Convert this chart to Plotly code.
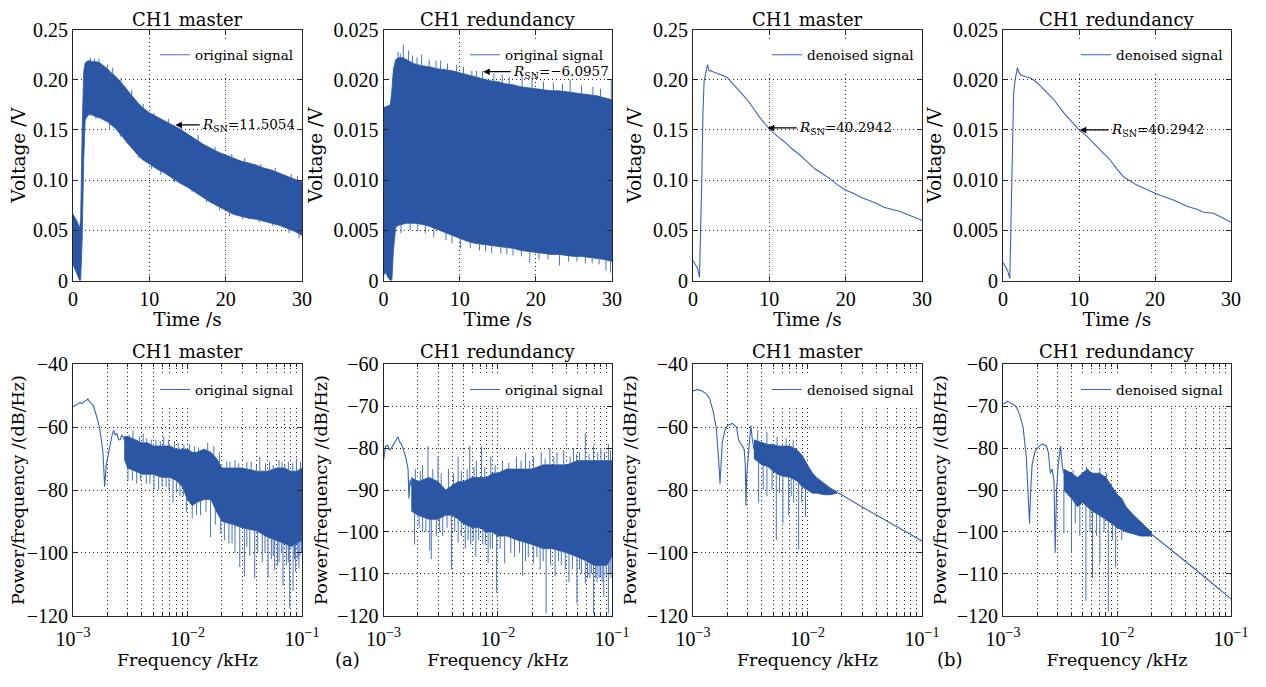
import numpy as np
import plotly.graph_objects as go

# the page body keeps its 8px default margin, so the figure is drawn 8px in from the corner
OFF = 8
W, H = 1266 - 2 * OFF, 687 - 2 * OFF

# ---------------- values ----------------
# top row: time /s, voltage /V
# CH1 master, original signal: the noise band is kept as upper/lower edges
mo_t = [0, 0.3, 0.6, 0.85, 1.0, 1.2, 1.4, 1.6, 2, 2.5, 3, 3.5, 4, 4.5, 5, 5.5, 6, 6.5, 7, 7.5, 8, 8.5, 9, 9.5, 10,
        11, 12, 13, 14, 15, 16, 17, 18, 19, 20, 21, 22, 23, 24, 25, 26, 27, 28, 29, 30]
mo_hi = [0.066, 0.062, 0.058, 0.052, 0.060, 0.150, 0.208, 0.217, 0.219, 0.218, 0.218, 0.217, 0.214, 0.211, 0.207,
         0.204, 0.200, 0.196, 0.191, 0.186, 0.181, 0.177, 0.173, 0.170, 0.167,
         0.163, 0.159, 0.155, 0.151, 0.146, 0.141, 0.136, 0.132, 0.128, 0.125, 0.122, 0.119, 0.117, 0.115, 0.112,
         0.110, 0.107, 0.104, 0.101, 0.098]
mo_lo = [0.016, 0.010, 0.005, 0.0, 0.0, 0.040, 0.120, 0.160, 0.165, 0.165, 0.163, 0.162, 0.160, 0.158, 0.155,
         0.152, 0.148, 0.143, 0.138, 0.133, 0.129, 0.125, 0.121, 0.118, 0.116,
         0.111, 0.107, 0.102, 0.097, 0.093, 0.088, 0.083, 0.078, 0.074, 0.070, 0.066, 0.064, 0.062, 0.061, 0.059,
         0.057, 0.055, 0.052, 0.049, 0.045]
mo_up_t = [2.3, 2.8, 3.4, 4.5, 5.2, 6.3, 7.7, 9.2, 10.6, 12.5, 14.2, 16.4, 18.6, 20.8, 22.5, 24.6, 26.5, 28.6, 29.4]
mo_up_v = [0.222, 0.221, 0.221, 0.215, 0.212, 0.202, 0.190, 0.176, 0.167, 0.161, 0.155, 0.145, 0.133, 0.126,
           0.122, 0.116, 0.112, 0.106, 0.104]
mo_dn_t = [3.0, 4.8, 6.2, 8.6, 10.3, 11.5, 13.3, 15.6, 17.5, 19.2, 20.5, 22.2, 24.4, 26.2, 28.3, 29.6]
mo_dn_v = [0.161, 0.150, 0.143, 0.122, 0.111, 0.105, 0.098, 0.088, 0.078, 0.070, 0.064, 0.061, 0.058, 0.054,
           0.047, 0.042]

# CH1 redundancy, original signal
ro_t = [0, 0.3, 0.6, 0.9, 1.1, 1.3, 1.6, 2, 2.5, 3,
        4, 5, 6, 7, 8, 9, 10, 11, 12, 13, 14, 15, 16, 17, 18, 19, 20, 21, 22, 23, 24, 25, 26, 27, 28, 29, 30]
ro_hi = [0.0172, 0.0173, 0.0174, 0.0175, 0.0190, 0.0210, 0.0220, 0.0222, 0.0222, 0.0220,
         0.0216, 0.0214, 0.0213, 0.0211, 0.0210, 0.0209, 0.0207, 0.0205, 0.0203, 0.0201, 0.0199, 0.0198, 0.0196,
         0.0195, 0.0193, 0.0192, 0.0191, 0.0190, 0.0189, 0.0189, 0.0188, 0.0187, 0.0186, 0.0185, 0.0184, 0.0182,
         0.0180]
ro_lo = [0.0005, 0.0008, 0.0003, 0.0, 0.0, 0.0030, 0.0053, 0.0055, 0.0056, 0.0057,
         0.0057, 0.0056, 0.0054, 0.0051, 0.0048, 0.0045, 0.0042, 0.0039, 0.0037, 0.0036, 0.0035, 0.0034, 0.0033,
         0.0032, 0.0030, 0.0029, 0.0028, 0.0027, 0.0026, 0.0026, 0.0025, 0.0024, 0.0024, 0.0023, 0.0022, 0.0021,
         0.0019]
ro_up_t = [1.9, 2.2, 2.6, 3.3, 3.8, 4.4, 5.0, 6.0, 6.9, 7.5, 8.4, 9.6, 10.5, 11.6, 12.2, 13.0, 14.5, 15.6, 16.5,
           18.2, 19.5, 21.0, 22.3, 23.5, 24.5, 26.0, 27.5, 28.5, 29.9]
ro_up_v = [0.0228, 0.0226, 0.0235, 0.0229, 0.0224, 0.0222, 0.0225, 0.0220, 0.0219, 0.0219, 0.0216, 0.0215,
           0.0213, 0.0214, 0.0210, 0.0212, 0.0206, 0.0205, 0.0203, 0.0204, 0.0200, 0.0198, 0.0197, 0.0196,
           0.0200, 0.0194, 0.0193, 0.0191, 0.0201]
ro_dn_t = [2.3, 3.5, 4.5, 5.5, 6.6, 8.2, 9.0, 10.1, 11.4, 12.6, 13.4, 14.2, 15.4, 16.2, 17.0, 18.1, 19.2, 20.4,
           21.6, 23.1, 24.3, 25.4, 26.5, 27.4, 28.3, 29.2, 29.8]
ro_dn_v = [0.0047, 0.0050, 0.0049, 0.0047, 0.0043, 0.0040, 0.0037, 0.0032, 0.0032, 0.0030, 0.0029, 0.0027,
           0.0027, 0.0026, 0.0025, 0.0024, 0.0018, 0.0021, 0.0021, 0.0015, 0.0019, 0.0019, 0.0017, 0.0017,
           0.0016, 0.0010, 0.0008]

# CH1 master, denoised signal
md_t = [0, 0.3, 0.6, 0.85, 1.0, 1.15, 1.3, 1.45, 1.6, 1.75, 1.9, 2.1, 2.3, 2.6, 3,
        3.5, 4, 4.5, 5, 5.5, 6, 6.5, 7, 7.5, 8, 8.5, 9, 9.5, 10,
        11, 12, 13, 14, 15, 16, 17, 18, 19, 20, 21, 22, 23, 24, 25, 26, 27, 28, 29, 30]
md_v = [0.020, 0.016, 0.012, 0.003, 0.040, 0.100, 0.165, 0.198, 0.204, 0.212, 0.215, 0.209, 0.209, 0.208, 0.207,
        0.206, 0.204, 0.202, 0.198, 0.194, 0.189, 0.185, 0.181, 0.176, 0.170, 0.165, 0.160, 0.155, 0.151,
        0.144, 0.138, 0.131, 0.125, 0.118, 0.111, 0.106, 0.101, 0.095, 0.090, 0.087, 0.083, 0.080, 0.077, 0.073,
        0.071, 0.069, 0.066, 0.063, 0.060]

# CH1 redundancy, denoised signal
rd_t = [0, 0.3, 0.6, 0.9, 1.05, 1.2, 1.4, 1.6, 1.9, 2.1, 2.3, 3, 3.6, 4.5, 5.8, 6.7, 8, 9, 10, 11,
        12.4, 14.1, 15, 15.9, 17.6, 19, 20, 21, 22.5, 24.2, 25.5, 26.4, 27.7, 29, 30]
rd_v = [0.0018, 0.0014, 0.0010, 0.0002, 0.0050, 0.0120, 0.0187, 0.0200, 0.0212, 0.0207,
        0.0205, 0.0203, 0.0202, 0.0197, 0.0187, 0.0180, 0.0167, 0.0159, 0.0150, 0.0144,
        0.0133, 0.0120, 0.0111, 0.0103, 0.0095, 0.0090, 0.0087, 0.0084, 0.0080, 0.0074,
        0.0071, 0.0068, 0.0067, 0.0062, 0.0058]

# bottom row: frequency /kHz, PSD /(dB/Hz)
# CH1 master, original signal
mop_line_f = [1.0e-3, 1.05e-3, 1.1e-3, 1.15e-3, 1.2e-3, 1.25e-3, 1.3e-3, 1.35e-3, 1.4e-3, 1.5e-3,
              1.6e-3, 1.7e-3, 1.77e-3, 1.83e-3, 1.89e-3, 1.95e-3, 2.0e-3, 2.09e-3, 2.18e-3, 2.26e-3,
              2.34e-3, 2.42e-3, 2.5e-3, 2.59e-3, 2.66e-3, 2.73e-3, 2.8e-3]
mop_line_db = [-53.5, -53, -52.5, -52.2, -52.5, -51.8, -51.6, -51, -52, -53,
               -56.3, -60, -64, -68.5, -79, -72, -70, -66, -63, -61,
               -62.5, -62, -64, -64, -62.5, -63, -64]
mop_band_f = [2.8e-3, 3e-3, 3.5e-3, 4e-3, 4.5e-3, 5e-3, 6e-3, 7e-3, 8e-3, 9e-3, 1e-2, 1.1e-2, 1.2e-2, 1.4e-2,
              1.6e-2, 1.8e-2, 2e-2, 2.5e-2, 3e-2, 4e-2, 5e-2, 6e-2, 7e-2, 8e-2, 9e-2, 1e-1]
mop_band_hi = [-63, -63, -64, -65, -65, -66, -66, -66, -67, -67, -67, -68, -68, -67,
               -68, -70, -73, -73, -73, -74, -74, -73, -73, -74, -74, -73]
mop_band_lo = [-70, -73, -74, -75, -75, -75, -76, -76, -77, -79, -83, -85, -84, -83,
               -83, -87, -90, -91, -92, -93, -95, -96, -97, -98, -97, -96]
mop_dn_f = [3.02e-3, 3.3e-3, 3.6e-3, 3.9e-3, 4.37e-3, 4.7e-3, 5.1e-3, 5.6e-3, 6.0e-3, 6.5e-3, 6.9e-3, 7.47e-3,
            8.0e-3, 8.6e-3, 9.2e-3, 9.77e-3, 1.1e-2, 1.2e-2, 1.3e-2, 1.45e-2, 1.59e-2, 1.75e-2, 1.95e-2,
            2.1e-2, 2.3e-2, 2.45e-2, 2.6e-2, 2.86e-2, 3.14e-2, 3.3e-2, 3.5e-2, 3.86e-2, 4.1e-2, 4.5e-2, 4.75e-2,
            5.05e-2, 5.4e-2, 5.6e-2, 5.77e-2, 6.1e-2, 6.3e-2, 6.6e-2, 6.82e-2, 7.3e-2, 7.6e-2, 7.8e-2, 8.36e-2,
            8.6e-2, 8.8e-2, 9.18e-2, 9.4e-2, 9.6e-2, 9.9e-2]
mop_dn_db = [-77, -77, -78, -77, -78, -78, -80, -80, -79, -79, -80, -84,
             -81, -82, -82, -87, -89, -88, -88, -87, -95, -91, -94,
             -96, -97, -97, -100, -104.5, -107.5, -98, -101, -108, -100, -103, -100,
             -108, -102, -101, -105.5, -104, -103, -100, -110.5, -104, -103, -117.5, -112,
             -102, -106, -102, -105, -101, -100]
mop_up_f = [3.1e-3, 3.34e-3, 3.8e-3, 4.1e-3, 4.4e-3, 4.83e-3, 5.3e-3, 5.8e-3, 6.2e-3, 6.8e-3, 7.7e-3, 8.3e-3,
            9.3e-3, 1.04e-2, 1.15e-2, 1.25e-2, 1.5e-2, 1.7e-2, 1.9e-2, 2.2e-2, 2.35e-2, 2.6e-2, 2.8e-2, 3.3e-2,
            3.6e-2, 4.0e-2, 4.28e-2, 4.8e-2, 5.2e-2, 5.6e-2, 6.3e-2, 6.7e-2, 7.1e-2, 7.6e-2, 8.3e-2, 8.94e-2,
            9.7e-2]
mop_up_db = [-62.5, -61, -63, -62, -63.5, -64, -64, -64.5, -63, -64, -64.5, -65,
             -65.5, -65.5, -66, -66.5, -65, -66, -68, -71, -71, -70.5, -71.5, -71,
             -71, -72, -69.5, -71.5, -71, -72, -70.5, -71, -72, -71, -71.5, -70,
             -71]

# CH1 redundancy, original signal
rop_line_f = [1.0e-3, 1.04e-3, 1.09e-3, 1.13e-3, 1.17e-3, 1.23e-3, 1.29e-3, 1.34e-3, 1.38e-3, 1.43e-3,
              1.48e-3, 1.56e-3, 1.64e-3, 1.67e-3, 1.71e-3, 1.75e-3]
rop_line_db = [-83, -79.6, -79.3, -80.5, -80, -79, -78, -77.3, -78.5, -79,
               -80, -82, -85, -92, -87.5, -89]
rop_band_f = [1.75e-3, 2e-3, 2.5e-3, 3e-3, 3.5e-3, 4e-3, 4.5e-3, 5e-3, 6e-3, 7e-3, 8e-3, 9e-3, 1e-2, 1.2e-2,
              1.5e-2, 2e-2, 2.5e-2, 3e-2, 4e-2, 5e-2, 6e-2, 7e-2, 8e-2, 9e-2, 1e-1]
rop_band_hi = [-87, -88, -87, -88, -90, -89, -88, -88, -87, -87, -87, -86, -86, -85,
               -85, -85, -84, -84, -84, -83, -83, -83, -83, -83, -83]
rop_band_lo = [-95, -96, -97, -97, -96, -96, -97, -98, -99, -99, -100, -100, -101, -101,
               -102, -103, -104, -104, -105, -106, -107, -108, -108, -108, -106]
rop_dn_f = [1.87e-3, 2.05e-3, 2.2e-3, 2.35e-3, 2.54e-3, 2.62e-3, 2.9e-3, 3.1e-3, 3.3e-3, 3.6e-3, 3.93e-3,
            4.2e-3, 4.5e-3, 4.8e-3, 5.2e-3, 5.5e-3, 5.8e-3, 6.1e-3, 6.43e-3, 6.8e-3, 7.4e-3, 7.8e-3, 8.24e-3,
            8.6e-3, 9.0e-3, 9.77e-3, 1.05e-2, 1.15e-2, 1.3e-2, 1.4e-2, 1.55e-2, 1.65e-2, 1.75e-2, 1.85e-2,
            2.05e-2, 2.2e-2, 2.35e-2, 2.5e-2, 2.65e-2, 2.9e-2, 3.18e-2, 3.4e-2, 3.6e-2, 3.9e-2, 4.2e-2, 4.5e-2,
            4.93e-2, 5.2e-2, 5.4e-2, 5.84e-2, 6.1e-2, 6.4e-2, 6.6e-2, 6.9e-2, 7.2e-2, 7.4e-2, 7.7e-2, 7.92e-2,
            8.2e-2, 8.47e-2, 8.9e-2, 9.3e-2, 9.6e-2, 9.8e-2]
rop_dn_db = [-103, -99, -100, -100, -104.5, -106.5, -101, -100, -101, -99, -109,
             -100, -102.5, -101, -104, -102, -103, -102, -106, -102, -103, -103, -107.5,
             -104, -104, -114.5, -104, -107.5, -105, -106, -105, -110.5, -107, -106,
             -107.5, -106, -109, -107, -119.5, -108, -110.5, -107, -108, -109, -112, -109,
             -117, -109, -110, -112.5, -111, -111, -110, -119.5, -111, -112, -111, -110.5,
             -112, -115.5, -111, -119.5, -110, -111]
rop_up_f = [1.9e-3, 2.1e-3, 2.2e-3, 2.45e-3, 2.7e-3, 3.0e-3, 3.2e-3, 3.7e-3, 4.1e-3, 4.5e-3, 4.8e-3, 5.4e-3,
            5.69e-3, 6.2e-3, 6.5e-3, 7.2e-3, 7.7e-3, 8.7e-3, 9.5e-3, 1.1e-2, 1.25e-2, 1.46e-2, 1.6e-2, 1.75e-2,
            1.9e-2, 2.05e-2, 2.4e-2, 2.6e-2, 2.86e-2, 3.1e-2, 3.3e-2, 3.78e-2, 4.3e-2, 4.6e-2, 4.9e-2, 5.2e-2,
            5.84e-2, 6.3e-2, 6.9e-2, 7.5e-2, 8.0e-2, 8.6e-2, 9.3e-2, 9.7e-2]
rop_up_db = [-85, -85.5, -84, -79.5, -85, -82, -86, -85, -86, -82, -85.5, -85,
             -79.5, -84.5, -83, -79.5, -84.5, -82, -84, -83, -83.5, -82, -83, -81,
             -83, -82, -81, -82.5, -80, -82, -81, -80.5, -82, -80, -81.5, -81,
             -76.5, -81.5, -79.5, -81, -80, -81, -79, -80.5]

# CH1 master, denoised signal
mdp_line_f = [1.0e-3, 1.1e-3, 1.2e-3, 1.3e-3, 1.4e-3, 1.5e-3, 1.6e-3, 1.65e-3, 1.7e-3, 1.72e-3,
              1.75e-3, 1.8e-3, 1.9e-3, 2.0e-3, 2.2e-3, 2.4e-3, 2.5e-3, 2.6e-3, 2.7e-3, 2.8e-3,
              2.86e-3, 2.9e-3, 2.95e-3, 3.0e-3, 3.1e-3, 3.2e-3, 3.3e-3, 3.4e-3]
mdp_line_db = [-48.5, -48, -48.5, -49.3, -51, -55, -60.5, -66, -74, -78,
               -72, -65, -61, -59.5, -58.8, -60, -64, -65, -66, -67,
               -72, -85, -75, -72, -65, -59.5, -64, -67]
mdp_band_f = [3.4e-3, 4e-3, 4.5e-3, 5e-3, 5.5e-3, 6e-3, 7e-3, 8e-3, 9e-3, 1e-2, 1.1e-2, 1.2e-2, 1.4e-2,
              1.6e-2, 1.8e-2]
mdp_band_hi = [-64, -65, -65.5, -65.5, -66, -66, -66, -67, -69, -72, -74.5, -76, -78, -79.5, -80.5]
mdp_band_lo = [-70, -72, -72.5, -74, -75, -75.5, -76, -77, -79, -80, -81, -81, -81.5, -81.5, -81]
mdp_tail_f = [1.8e-2, 2e-2, 3e-2, 5e-2, 7e-2, 1e-1]
mdp_tail_db = [-80.8, -81.6, -85.4, -90, -93.1, -96.2]
mdp_dn_f = [3.74e-3, 4.1e-3, 4.42e-3, 4.9e-3, 5.34e-3, 5.7e-3, 6.1e-3, 6.84e-3, 7.2e-3, 7.57e-3, 8.37e-3,
            8.9e-3, 9.6e-3]
mdp_dn_db = [-84, -80, -82, -80, -96, -81, -90.5, -88, -82, -84, -99, -84, -88.5]
mdp_up_f = [3.67e-3, 4.42e-3, 5.42e-3, 6.5e-3, 7.5e-3]
mdp_up_db = [-61, -61.5, -63, -63.5, -64]

# CH1 redundancy, denoised signal
rdp_line_f = [1.0e-3, 1.1e-3, 1.2e-3, 1.3e-3, 1.4e-3, 1.5e-3, 1.6e-3, 1.65e-3, 1.71e-3, 1.75e-3,
              1.8e-3, 1.9e-3, 2.0e-3, 2.2e-3, 2.4e-3, 2.5e-3, 2.6e-3, 2.7e-3, 2.8e-3, 2.87e-3,
              2.95e-3, 3.05e-3, 3.2e-3, 3.3e-3, 3.4e-3]
rdp_line_db = [-69.5, -68.8, -69.5, -70, -72, -75, -82, -90, -98, -90,
               -84, -81, -80, -79, -79.5, -81, -86, -85, -88, -105,
               -90, -84, -79.5, -84, -86]
rdp_band_f = [3.4e-3, 4e-3, 4.5e-3, 5e-3, 5.5e-3, 6e-3, 7e-3, 8e-3, 9e-3, 1e-2, 1.1e-2, 1.2e-2, 1.4e-2,
              1.6e-2, 1.8e-2, 2e-2]
rdp_band_hi = [-85, -86, -87, -86, -85, -86, -86, -87, -89, -91, -92, -94, -96, -97.5, -99, -100]
rdp_band_lo = [-90, -92, -94, -93, -94, -95, -96, -97, -98, -99, -99.5, -100, -100.5, -101, -101, -101]
rdp_tail_f = [2e-2, 3e-2, 5e-2, 7e-2, 1e-1]
rdp_tail_db = [-100.5, -104.3, -109.2, -112.5, -116]
rdp_dn_f = [3.42e-3, 3.99e-3, 4.3e-3, 4.72e-3, 5.34e-3, 5.8e-3, 6.1e-3, 6.6e-3, 7.08e-3, 7.7e-3, 8.39e-3,
            9.1e-3, 9.73e-3, 1.1e-2]
rdp_dn_db = [-100.3, -105, -98, -101, -116.5, -100, -111, -101, -107.5, -100, -119, -102, -108.5, -102]
rdp_up_f = [4.12e-3, 5.4e-3, 7.08e-3, 8.1e-3]
rdp_up_db = [-85.2, -84.4, -84.8, -86]

# R_SN call-outs (arrow head / tail in data units)
rsn_text = ['11.5054', '\u22126.0957', '40.2942', '40.2942']
rsn_head_t = [13.4, 13.1, 9.8, 10.1]
rsn_tail_t = [16.6, 16.7, 13.6, 13.9]
rsn_v = [0.155, 0.0208, 0.152, 0.015]

titles = ['CH1 master', 'CH1 redundancy'] * 4
legend_names = ['original signal', 'original signal', 'denoised signal', 'denoised signal'] * 2

# ---------------- styling ----------------
BLUE = '#2a56a4'
LINE = '#3a63b8'
SPIKE = '#4a72c4'
SERIF = 'DejaVu Serif'
NUMS = 'Liberation Serif'
DOTS = '1px,3px'

# panel boxes in screen pixels (left, right) / (top, bottom)
cols_px = [(73, 302), (383.5, 612), (693, 922), (1003, 1231)]
rows_px = [(29.5, 280.5), (364.3, 615.7)]
title_gap = [10.5, 13]   # title centre above each row's box


def fx(px):
    return (px - OFF) / W


def fy(py):
    return 1 - (py - OFF) / H


def ax_id(i):
    return '' if i == 1 else str(i)


def band(i, xs, hi, lo):
    return go.Scatter(x=list(xs) + list(xs)[::-1], y=list(hi) + list(lo)[::-1],
                      fill='toself', fillcolor=BLUE, mode='lines',
                      line=dict(color=BLUE, width=0.8), showlegend=False, hoverinfo='skip',
                      xaxis='x' + ax_id(i), yaxis='y' + ax_id(i))


def spikes(i, xs, hi, lo, up_x, up_y, dn_x, dn_y, log=False, name=None):
    tr = np.log10 if log else (lambda a: np.asarray(a, dtype=float))
    X, Y = [], []
    for sx, sy in zip(up_x, up_y):
        X += [sx, sx, None]
        Y += [float(np.interp(tr(sx), tr(xs), hi)), sy, None]
    for sx, sy in zip(dn_x, dn_y):
        X += [sx, sx, None]
        Y += [float(np.interp(tr(sx), tr(xs), lo)), sy, None]
    return go.Scatter(x=X, y=Y, mode='lines', line=dict(color=SPIKE, width=1),
                      name=name or '', showlegend=name is not None, legend='legend' + ax_id(i),
                      hoverinfo='skip', xaxis='x' + ax_id(i), yaxis='y' + ax_id(i))


def line(i, xs, ys, name):
    return go.Scatter(x=xs, y=ys, mode='lines', line=dict(color=LINE, width=1.1),
                      name=name, showlegend=True, legend='legend' + ax_id(i),
                      hoverinfo='skip', xaxis='x' + ax_id(i), yaxis='y' + ax_id(i))


fig = go.Figure()

# top row
fig.add_trace(band(1, mo_t, mo_hi, mo_lo))
fig.add_trace(spikes(1, mo_t, mo_hi, mo_lo, mo_up_t, mo_up_v, mo_dn_t, mo_dn_v, name=legend_names[0]))
fig.add_trace(band(2, ro_t, ro_hi, ro_lo))
fig.add_trace(spikes(2, ro_t, ro_hi, ro_lo, ro_up_t, ro_up_v, ro_dn_t, ro_dn_v, name=legend_names[1]))
fig.add_trace(line(3, md_t, md_v, legend_names[2]))
fig.add_trace(line(4, rd_t, rd_v, legend_names[3]))

# bottom row
fig.add_trace(band(5, mop_band_f, mop_band_hi, mop_band_lo))
fig.add_trace(spikes(5, mop_band_f, mop_band_hi, mop_band_lo, mop_up_f, mop_up_db, mop_dn_f, mop_dn_db, log=True))
fig.add_trace(line(5, mop_line_f, mop_line_db, legend_names[4]))

fig.add_trace(band(6, rop_band_f, rop_band_hi, rop_band_lo))
fig.add_trace(spikes(6, rop_band_f, rop_band_hi, rop_band_lo, rop_up_f, rop_up_db, rop_dn_f, rop_dn_db, log=True))
fig.add_trace(line(6, rop_line_f, rop_line_db, legend_names[5]))

fig.add_trace(band(7, mdp_band_f, mdp_band_hi, mdp_band_lo))
fig.add_trace(spikes(7, mdp_band_f, mdp_band_hi, mdp_band_lo, mdp_up_f, mdp_up_db, mdp_dn_f, mdp_dn_db, log=True))
fig.add_trace(line(7, mdp_line_f + [None] + mdp_tail_f, mdp_line_db + [None] + mdp_tail_db, legend_names[6]))

fig.add_trace(band(8, rdp_band_f, rdp_band_hi, rdp_band_lo))
fig.add_trace(spikes(8, rdp_band_f, rdp_band_hi, rdp_band_lo, rdp_up_f, rdp_up_db, rdp_dn_f, rdp_dn_db, log=True))
fig.add_trace(line(8, rdp_line_f + [None] + rdp_tail_f, rdp_line_db + [None] + rdp_tail_db, legend_names[7]))

common = dict(showline=True, linecolor='#262626', linewidth=1, mirror='ticks', ticks='inside', ticklen=5,
              tickcolor='#262626', showgrid=True, gridcolor='#222222', griddash=DOTS, gridwidth=1,
              zeroline=False, automargin=False, tickfont=dict(family=NUMS, size=20, color='black'))

minor_f = [k * 10.0 ** e for e in (-3, -2) for k in range(2, 10)]
lay = {}
annos = []
for i in range(1, 9):
    r, c = divmod(i - 1, 4)
    x0, x1 = cols_px[c]
    y0, y1 = rows_px[r]
    a = ax_id(i)
    xa = dict(common, domain=[fx(x0), fx(x1)], anchor='y' + a)
    ya = dict(common, domain=[fy(y1), fy(y0)], anchor='x' + a)
    if r == 0:
        xa.update(range=[0, 30], tickvals=[0, 10, 20, 30],
                  title=dict(text='Time /s', standoff=3, font=dict(family=SERIF, size=18.5, color='black')))
        if c % 2 == 0:
            ya.update(range=[0, 0.25], tickvals=[0, 0.05, 0.10, 0.15, 0.20, 0.25],
                      ticktext=['0', '0.05', '0.10', '0.15', '0.20', '0.25'])
        else:
            ya.update(range=[0, 0.025], tickvals=[0, 0.005, 0.010, 0.015, 0.020, 0.025],
                      ticktext=['0', '0.005', '0.010', '0.015', '0.020', '0.025'])
        ya.update(title=dict(text='Voltage /V', standoff=6, font=dict(family=SERIF, size=18.5, color='black')))
    else:
        xa.update(type='log', range=[-3, -1], tickvals=[1e-3, 1e-2, 1e-1], ticklabelstandoff=5,
                  ticktext=['10<sup>\u22123</sup>', '10<sup>\u22122</sup>', '10<sup>\u22121</sup>'],
                  minor=dict(tickvals=minor_f, ticks='inside', ticklen=3, tickcolor='#262626',
                             showgrid=True, gridcolor='#222222', griddash=DOTS, gridwidth=1),
                  title=dict(text='Frequency /kHz', standoff=2, font=dict(family=SERIF, size=17.5, color='black')))
        if c % 2 == 0:
            ya.update(range=[-120, -40], tickvals=[-120, -100, -80, -60, -40])
        else:
            ya.update(range=[-120, -60], tickvals=[-120, -110, -100, -90, -80, -70, -60])
        ya.update(title=dict(text='Power/frequency /(dB/Hz)', standoff=5,
                             font=dict(family=SERIF, size=17.5, color='black')))
    lay['xaxis' + a] = xa
    lay['yaxis' + a] = ya
    lay['legend' + a] = dict(x=fx(x1 - 3), y=fy(y0 + 10), xanchor='right', yanchor='top',
                             bgcolor='white', borderwidth=0, itemwidth=30,
                             font=dict(family=SERIF, size=13.5, color='black'))
    annos.append(dict(text=titles[i - 1], xref='paper', yref='paper', x=fx((x0 + x1) / 2),
                      y=fy(y0 - title_gap[r]), xanchor='center', yanchor='middle', showarrow=False,
                      borderpad=0, font=dict(family=SERIF, size=18, color='black')))

for k in range(4):
    a = ax_id(k + 1)
    annos.append(dict(x=rsn_head_t[k], y=rsn_v[k], ax=rsn_tail_t[k], ay=rsn_v[k],
                      xref='x' + a, yref='y' + a, axref='x' + a, ayref='y' + a,
                      text='<i>R</i><sub>SN</sub>=' + rsn_text[k], xanchor='left', yanchor='middle',
                      showarrow=True, arrowhead=2, arrowsize=1, arrowwidth=1.3, arrowcolor='black',
                      standoff=0, startstandoff=0,
                      font=dict(family=SERIF, size=13.5, color='black')))

annos.append(dict(text='(a)', xref='paper', yref='paper', x=fx(333), y=fy(672), showarrow=False,
                  font=dict(family=SERIF, size=18, color='black')))
annos.append(dict(text='(b)', xref='paper', yref='paper', x=fx(965), y=fy(672), showarrow=False,
                  font=dict(family=SERIF, size=18, color='black')))

fig.update_layout(width=W, height=H, margin=dict(l=0, r=0, t=0, b=0),
                  paper_bgcolor='white', plot_bgcolor='white', annotations=annos, **lay)

fig.write_html('out.html')
